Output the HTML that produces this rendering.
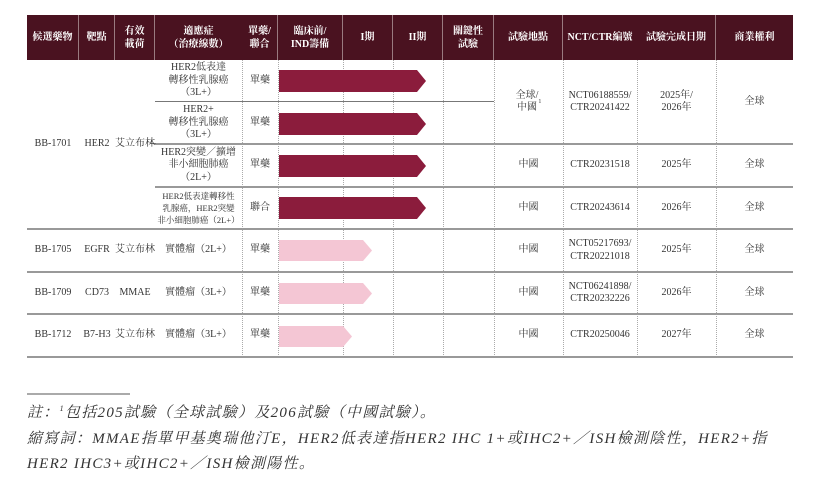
<!DOCTYPE html>
<html><head><meta charset="utf-8"><style>
*{margin:0;padding:0;box-sizing:border-box}
body{width:830px;height:477px;background:#fff;position:relative;overflow:hidden;font-family:"Liberation Serif","Noto Serif CJK SC","Noto Sans CJK TC",serif;color:#333}
.a{position:absolute}
.h{position:absolute;top:15px;height:45px;background:#4a1220;color:#fff;font-weight:bold;font-size:10px;display:flex;align-items:center;justify-content:center;text-align:center;line-height:13px;border-right:1px solid #9a7a80}
.c{position:absolute;display:flex;align-items:center;justify-content:center;text-align:center;font-size:10px;line-height:12.5px;white-space:nowrap}
.vd{position:absolute;top:60px;height:297px;border-left:1px dotted #aaa}
.hl{position:absolute;height:2px;background:#999}
.ft{position:absolute;left:27px;font-style:italic;font-size:15px;letter-spacing:1.3px;white-space:nowrap;color:#333}
sup{line-height:0}
</style></head><body>
<div class="h" style="left:27px;width:52px">候選藥物</div>
<div class="h" style="left:79px;width:36px">靶點</div>
<div class="h" style="left:115px;width:40px">有效<br>載荷</div>
<div class="h" style="left:155px;width:87px;border-right:none">適應症<br>（治療線數）</div>
<div class="h" style="left:242px;width:36px">單藥/<br>聯合</div>
<div class="h" style="left:278px;width:65px">臨床前/<br>IND籌備</div>
<div class="h" style="left:343px;width:50px">I期</div>
<div class="h" style="left:393px;width:50px">II期</div>
<div class="h" style="left:443px;width:51px">關鍵性<br>試驗</div>
<div class="h" style="left:494px;width:69px">試驗地點</div>
<div class="h" style="left:563px;width:74px;border-right:none">NCT/CTR編號</div>
<div class="h" style="left:637px;width:79px">試驗完成日期</div>
<div class="h" style="left:716px;width:77px;border-right:none">商業權利</div>

<div class="vd" style="left:242px"></div><div class="vd" style="left:278px"></div>
<div class="vd" style="left:343px"></div><div class="vd" style="left:393px"></div>
<div class="vd" style="left:443px"></div><div class="vd" style="left:494px"></div>
<div class="vd" style="left:563px"></div><div class="vd" style="left:637px"></div>
<div class="vd" style="left:716px"></div>

<div class="hl" style="left:155px;width:339px;top:101px;height:1px;background:#777"></div>
<div class="hl" style="left:155px;width:638px;top:143px"></div>
<div class="hl" style="left:155px;width:638px;top:186px"></div>
<div class="hl" style="left:27px;width:766px;top:228px"></div>
<div class="hl" style="left:27px;width:766px;top:271px"></div>
<div class="hl" style="left:27px;width:766px;top:313px"></div>
<div class="hl" style="left:27px;width:766px;top:356px"></div>
<div class="a" style="left:150px;top:143px;width:6px;border-top:1px solid #777"></div>

<div class="c" style="left:27px;top:60px;width:52px;height:168px">BB-1701</div>
<div class="c" style="left:79px;top:60px;width:36px;height:168px">HER2</div>
<div class="c" style="left:115px;top:60px;width:40px;height:168px">艾立布林</div>

<div class="c" style="left:155px;top:60px;width:87px;height:42px">HER2低表達<br>轉移性乳腺癌<br>（3L+）</div>
<div class="c" style="left:155px;top:102px;width:87px;height:42px">HER2+<br>轉移性乳腺癌<br>（3L+）</div>
<div class="c" style="left:155px;top:144px;width:87px;height:43px">HER2突變／擴增<br>非小細胞肺癌<br>（2L+）</div>
<div class="c" style="left:155px;top:187px;width:87px;height:42px;font-size:8.5px;line-height:12px">HER2低表達轉移性<br>乳腺癌，HER2突變<br>非小細胞肺癌（2L+）</div>
<div class="c" style="left:242px;top:60px;width:36px;height:42px">單藥</div>
<div class="c" style="left:242px;top:102px;width:36px;height:42px">單藥</div>
<div class="c" style="left:242px;top:144px;width:36px;height:43px">單藥</div>
<div class="c" style="left:242px;top:187px;width:36px;height:42px">聯合</div>

<svg class="a" style="left:0;top:0" width="830" height="477">
<g fill="#8b1c3c">
<polygon points="279,70 417,70 426,81 417,92 279,92"/>
<polygon points="279,113 417,113 426,124 417,135 279,135"/>
<polygon points="279,155 417,155 426,166 417,177 279,177"/>
<polygon points="279,197 417,197 426,208 417,219 279,219"/>
</g>
<g fill="#f4c6d4">
<polygon points="279,240 363,240 372,250.5 363,261 279,261"/>
<polygon points="279,283 363,283 372,293.5 363,304 279,304"/>
<polygon points="279,326 343,326 352,336.5 343,347 279,347"/>
</g>
<line x1="27" y1="394" x2="130" y2="394" stroke="#555" stroke-width="1"/>
</svg>

<div class="c" style="left:494px;top:60px;width:69px;height:84px">全球/<br>中國<sup style="font-size:6px">1</sup></div>
<div class="c" style="left:563px;top:60px;width:74px;height:84px">NCT06188559/<br>CTR20241422</div>
<div class="c" style="left:637px;top:60px;width:79px;height:84px">2025年/<br>2026年</div>
<div class="c" style="left:716px;top:60px;width:77px;height:84px">全球</div>
<div class="c" style="left:494px;top:144px;width:69px;height:43px">中國</div>
<div class="c" style="left:563px;top:144px;width:74px;height:43px">CTR20231518</div>
<div class="c" style="left:637px;top:144px;width:79px;height:43px">2025年</div>
<div class="c" style="left:716px;top:144px;width:77px;height:43px">全球</div>
<div class="c" style="left:494px;top:187px;width:69px;height:42px">中國</div>
<div class="c" style="left:563px;top:187px;width:74px;height:42px">CTR20243614</div>
<div class="c" style="left:637px;top:187px;width:79px;height:42px">2026年</div>
<div class="c" style="left:716px;top:187px;width:77px;height:42px">全球</div>

<div class="c" style="left:27px;top:229px;width:52px;height:43px">BB-1705</div>
<div class="c" style="left:79px;top:229px;width:36px;height:43px">EGFR</div>
<div class="c" style="left:115px;top:229px;width:40px;height:43px">艾立布林</div>
<div class="c" style="left:155px;top:229px;width:87px;height:43px">實體瘤（2L+）</div>
<div class="c" style="left:242px;top:229px;width:36px;height:43px">單藥</div>
<div class="c" style="left:494px;top:229px;width:69px;height:43px">中國</div>
<div class="c" style="left:563px;top:229px;width:74px;height:43px">NCT05217693/<br>CTR20221018</div>
<div class="c" style="left:637px;top:229px;width:79px;height:43px">2025年</div>
<div class="c" style="left:716px;top:229px;width:77px;height:43px">全球</div>

<div class="c" style="left:27px;top:272px;width:52px;height:42px">BB-1709</div>
<div class="c" style="left:79px;top:272px;width:36px;height:42px">CD73</div>
<div class="c" style="left:115px;top:272px;width:40px;height:42px">MMAE</div>
<div class="c" style="left:155px;top:272px;width:87px;height:42px">實體瘤（3L+）</div>
<div class="c" style="left:242px;top:272px;width:36px;height:42px">單藥</div>
<div class="c" style="left:494px;top:272px;width:69px;height:42px">中國</div>
<div class="c" style="left:563px;top:272px;width:74px;height:42px">NCT06241898/<br>CTR20232226</div>
<div class="c" style="left:637px;top:272px;width:79px;height:42px">2026年</div>
<div class="c" style="left:716px;top:272px;width:77px;height:42px">全球</div>

<div class="c" style="left:27px;top:314px;width:52px;height:43px">BB-1712</div>
<div class="c" style="left:79px;top:314px;width:36px;height:43px">B7-H3</div>
<div class="c" style="left:115px;top:314px;width:40px;height:43px">艾立布林</div>
<div class="c" style="left:155px;top:314px;width:87px;height:43px">實體瘤（3L+）</div>
<div class="c" style="left:242px;top:314px;width:36px;height:43px">單藥</div>
<div class="c" style="left:494px;top:314px;width:69px;height:43px">中國</div>
<div class="c" style="left:563px;top:314px;width:74px;height:43px">CTR20250046</div>
<div class="c" style="left:637px;top:314px;width:79px;height:43px">2027年</div>
<div class="c" style="left:716px;top:314px;width:77px;height:43px">全球</div>

<div class="ft" style="top:401px">註：<sup style="font-size:8px">1</sup>包括205試驗（全球試驗）及206試驗（中國試驗）。</div>
<div class="ft" style="top:427px">縮寫詞：MMAE指單甲基奧瑞他汀E，HER2低表達指HER2 IHC 1+或IHC2+／ISH檢測陰性，HER2+指</div>
<div class="ft" style="top:452px">HER2 IHC3+或IHC2+／ISH檢測陽性。</div>
</body></html>
